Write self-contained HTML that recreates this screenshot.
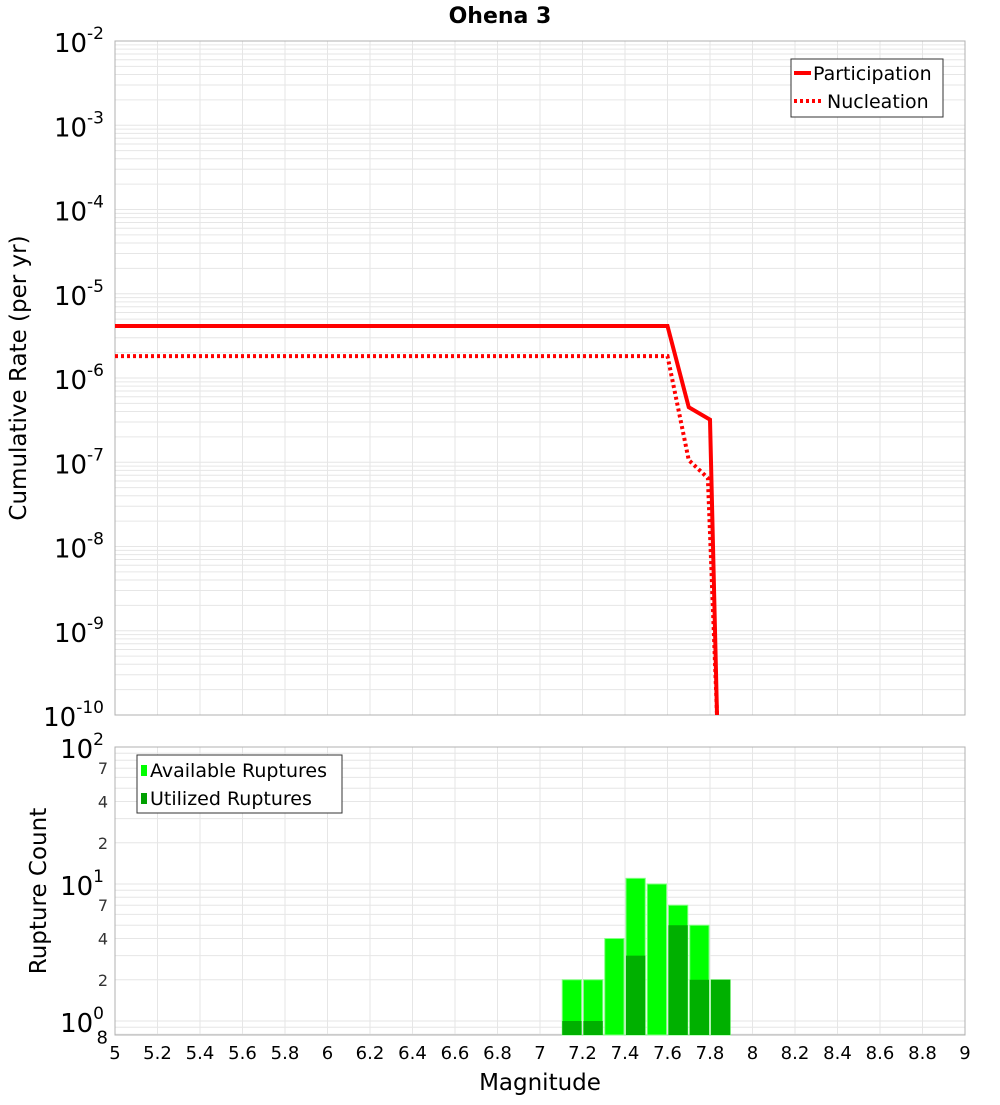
<!DOCTYPE html>
<html><head><meta charset="utf-8"><style>
body{margin:0;background:#fff;font-family:"Liberation Sans","DejaVu Sans",sans-serif}
svg text{font-family:"DejaVu Sans","Liberation Sans",sans-serif}
</style></head><body>
<svg id="c" width="1000" height="1100" xmlns="http://www.w3.org/2000/svg"></svg>
<script>
const partMags=[5,7.6,7.7,7.8,7.833];
const partRates=[4.14e-6,4.14e-6,4.5e-7,3.2e-7,1e-10];
const nuclMags=[5,7.6,7.7,7.79,7.833];
const nuclRates=[1.82e-6,1.82e-6,1.06e-7,6.5e-8,1e-10];
const binMags=[7.15,7.25,7.35,7.45,7.55,7.65,7.75,7.85];
const availCounts=[2,2,4,11,10,7,5,2];
const usedCounts=[1,1,0,3,0,5,2,2];
const xTicks=[5,5.2,5.4,5.6,5.8,6,6.2,6.4,6.6,6.8,7,7.2,7.4,7.6,7.8,8,8.2,8.4,8.6,8.8,9];
const topExps=[-2,-3,-4,-5,-6,-7,-8,-9,-10];
const botMinor=[7,4,2];

const S=document.getElementById('c');const NS='http://www.w3.org/2000/svg';
function mk(t,a,p){const e=document.createElementNS(NS,t);for(const k in a)e.setAttribute(k,a[k]);(p||S).appendChild(e);return e;}
const L=115,R=965,T1=41,B1=715,T2=747,B2=1035;
const X=m=>L+(m-5)/4*(R-L);
const Y1=v=>T1+(-2-Math.log10(v))*(B1-T1)/8;
const Y2=v=>T2+(2-Math.log10(v))*137;

const g=mk('g',{});

for(let e=-10;e<-2;e++)for(let k=1;k<10;k++){const y=Y1(k*Math.pow(10,e));mk('line',{x1:L,x2:R,y1:y,y2:y,stroke:'#e6e6e6','stroke-width':1},g);}
for(let e=-1;e<2;e++)for(let k=1;k<10;k++){const v=k*Math.pow(10,e);const y=Y2(v);if(y>B2||y<T2)continue;mk('line',{x1:L,x2:R,y1:y,y2:y,stroke:'#e6e6e6','stroke-width':1},g);}
xTicks.forEach(m=>{mk('line',{x1:X(m),x2:X(m),y1:T1,y2:B1,stroke:'#e6e6e6'},g);mk('line',{x1:X(m),x2:X(m),y1:T2,y2:B2,stroke:'#e6e6e6'},g);});

const f1=mk('rect',{x:L,y:T1,width:R-L,height:B1-T1,fill:'none',stroke:'#b0b0b0'});

const f2=mk('rect',{x:L,y:T2,width:R-L,height:B2-T2,fill:'none',stroke:'#b0b0b0'});


const ti=mk('text',{x:500,y:23,'text-anchor':'middle','font-size':22,'font-weight':'bold'});ti.textContent='Ohena 3';


topExps.forEach(e=>{const y=Y1(Math.pow(10,e));const t=mk('text',{x:104,y:y+11,'text-anchor':'end','font-size':26});
t.textContent='10';const s=mk('tspan',{dy:-13,'font-size':17},t);s.textContent=e;
});
const yt=mk('text',{x:0,y:0,'text-anchor':'middle','font-size':23,transform:'translate(26,378) rotate(-90)'});yt.textContent='Cumulative Rate (per yr)';


[2,1,0].forEach(e=>{const y=Y2(Math.pow(10,e));const t=mk('text',{x:104,y:y+11,'text-anchor':'end','font-size':26});
t.textContent='10';const s=mk('tspan',{dy:-13,'font-size':17},t);s.textContent=e;

if(e>0)botMinor.forEach(k=>{const v=k*Math.pow(10,e-1);const tt=mk('text',{x:108,y:Y2(v)+6,'text-anchor':'end','font-size':16,fill:'#333'});tt.textContent=k;
});});
const e8=mk('text',{x:108,y:Y2(0.8)+9,'text-anchor':'end','font-size':18});e8.textContent='8';

const yt2=mk('text',{x:0,y:0,'text-anchor':'middle','font-size':23,transform:'translate(46,891) rotate(-90)'});yt2.textContent='Rupture Count';


xTicks.forEach(m=>{const t=mk('text',{x:X(m),y:1059,'text-anchor':'middle','font-size':18});t.textContent=String(m);
});
const xt=mk('text',{x:540,y:1090,'text-anchor':'middle','font-size':23});xt.textContent='Magnitude';


const pts=(ms,rs)=>ms.map((m,i)=>X(m)+','+Y1(rs[i])).join(' ');
const pl=mk('polyline',{points:pts(partMags,partRates),fill:'none',stroke:'#ff0000','stroke-width':4});

const nl=mk('polyline',{points:pts(nuclMags,nuclRates),fill:'none',stroke:'#ff0000','stroke-width':4,'stroke-dasharray':'3,3'});


const bw=0.1*(R-L)/4-2;
binMags.forEach((m,i)=>{
 const a=mk('rect',{x:X(m)-bw/2,y:Y2(availCounts[i]),width:bw,height:B2-Y2(availCounts[i]),fill:'#00ff00',stroke:'#80ff80','stroke-width':1});
 
 if(usedCounts[i]>0){const u=mk('rect',{x:X(m)-bw/2,y:Y2(usedCounts[i]),width:bw,height:B2-Y2(usedCounts[i]),fill:'#00b000'});
 }
});

const lg=mk('g',{});
mk('rect',{x:791,y:59,width:152,height:58,fill:'#fff',stroke:'#333'},lg);
mk('line',{x1:794,x2:811,y1:73,y2:73,stroke:'#f00','stroke-width':4},lg);
mk('line',{x1:794,x2:822,y1:101,y2:101,stroke:'#f00','stroke-width':4,'stroke-dasharray':'3,3'},lg);
let t=mk('text',{x:813,y:80,'font-size':19},lg);t.textContent='Participation';
t=mk('text',{x:827,y:108,'font-size':19},lg);t.textContent='Nucleation';
const lg2=mk('g',{});
mk('rect',{x:137,y:755,width:205,height:58,fill:'#fff',stroke:'#333'},lg2);
mk('rect',{x:141,y:765,width:6,height:11,fill:'#00ff00'},lg2);
mk('rect',{x:141,y:793,width:6,height:11,fill:'#00a000'},lg2);
t=mk('text',{x:150,y:777,'font-size':19},lg2);t.textContent='Available Ruptures';
t=mk('text',{x:150,y:805,'font-size':19},lg2);t.textContent='Utilized Ruptures';
</script>
</body></html>
